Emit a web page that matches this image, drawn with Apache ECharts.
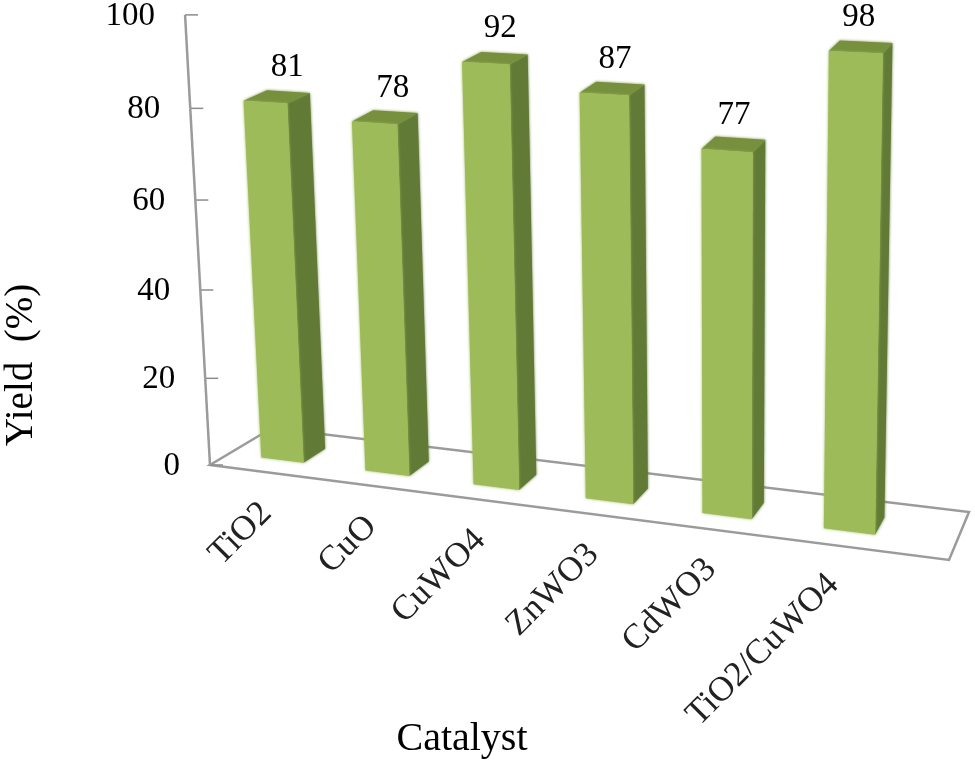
<!DOCTYPE html>
<html>
<head>
<meta charset="utf-8">
<style>
  html, body { margin: 0; padding: 0; background: #fff; }
  #chart { width: 975px; height: 763px; }
</style>
<script src="https://cdn.jsdelivr.net/npm/echarts@6/dist/echarts.min.js"></script>
</head>
<body>
<div id="chart"></div>
<script>
var categories = ['TiO2', 'CuO', 'CuWO4', 'ZnWO3', 'CdWO3', 'TiO2/CuWO4'];
var yields = [81, 78, 92, 87, 77, 98];
var yTicks = [0, 20, 40, 60, 80, 100];

var FONT = '"Liberation Serif", "Times New Roman", serif';
var GRAY = '#9b9b9b';

// floor corners on screen: front-left, front-right, back-right, back-left
var F = [[210, 465], [949, 560], [969, 512], [272, 428]];
// vanishing point of the vertical edges, and how fast height eats into it
var VP = [727, 9800];
var H_RATE = -0.00046;
// the categories fill only part of the floor's width
var U_START = 0.003, U_SPAN = 0.9444;
var BAR_FRAC = 0.41, Z_FRONT = 0.30, Z_BACK = 0.67;
// original's top faces look a bit deeper than the camera would give
var TOP_RAISE = 1;

// floor homography, square to quad
var sx = F[0][0] - F[1][0] + F[2][0] - F[3][0];
var sy = F[0][1] - F[1][1] + F[2][1] - F[3][1];
var dx1 = F[1][0] - F[2][0], dx2 = F[3][0] - F[2][0];
var dy1 = F[1][1] - F[2][1], dy2 = F[3][1] - F[2][1];
var det = dx1 * dy2 - dx2 * dy1;
var G = (sx * dy2 - dx2 * sy) / det;
var H = (dx1 * sy - sx * dy1) / det;

// u along the front edge, z into the depth, h is the axis value
function project(u, z, h) {
  var k = H_RATE * h;
  var X = (F[1][0] - F[0][0] + G * F[1][0]) * u + (F[3][0] - F[0][0] + H * F[3][0]) * z + F[0][0] + k * VP[0];
  var Y = (F[1][1] - F[0][1] + G * F[1][1]) * u + (F[3][1] - F[0][1] + H * F[3][1]) * z + F[0][1] + k * VP[1];
  var W = 1 + G * u + H * z + k;
  return [X / W, Y / W];
}

function toU(px, cs) { return U_START + (px - cs.x) / cs.width * U_SPAN; }
function toH(py, cs) { return (cs.y + cs.height - py) / cs.height * 100; }

function poly(points, fill) {
  return { type: 'polygon', shape: { points: points }, style: { fill: fill, shadowBlur: 3, shadowColor: fill } };
}

function renderFloor() {
  return {
    type: 'polygon',
    shape: { points: [project(0, 0, 0), project(1, 0, 0), project(1, 1, 0), project(0, 1, 0)] },
    style: { fill: 'none', stroke: GRAY, lineWidth: 2.5, lineJoin: 'miter' }
  };
}

function renderAxis(params, api) {
  var cs = params.coordSys;
  var v = api.value(1);
  var h = toH(api.coord([0, v])[1], cs);
  var p = project(0, 0, h);
  var kids = [
    { type: 'line', shape: { x1: p[0], y1: p[1], x2: p[0] + 13, y2: p[1] }, style: { stroke: '#8c8c8c', lineWidth: 1.5 } },
    { type: 'text', x: p[0] - 30, y: p[1] + 1, style: { text: String(v), font: '33px ' + FONT, fill: '#000', align: 'right', verticalAlign: 'middle' } }
  ];
  if (v > 0) {
    var low = project(0, 0, h - 20);
    kids.push({ type: 'line', shape: { x1: low[0], y1: low[1], x2: p[0], y2: p[1] }, style: { stroke: GRAY, lineWidth: 2.5 } });
  }
  return { type: 'group', children: kids };
}

function renderBar(params, api) {
  var cs = params.coordSys;
  var i = api.value(0), val = api.value(1);
  var c = api.coord([i, val]);
  var uc = toU(c[0], cs);
  var half = api.size([1, 0])[0] / cs.width * U_SPAN * BAR_FRAC / 2;
  var h = toH(c[1], cs);
  var u0 = uc - half, u1 = uc + half;
  var hb = h + TOP_RAISE;

  var front = [project(u0, Z_FRONT, 0), project(u1, Z_FRONT, 0), project(u1, Z_FRONT, h), project(u0, Z_FRONT, h)];
  var side = [project(u1, Z_FRONT, 0), project(u1, Z_BACK, 0), project(u1, Z_BACK, hb), project(u1, Z_FRONT, h)];
  var top = [project(u0, Z_FRONT, h), project(u1, Z_FRONT, h), project(u1, Z_BACK, hb), project(u0, Z_BACK, hb)];

  var head = project(uc, Z_FRONT, h);
  var foot = project(uc, Z_FRONT, 0);

  return {
    type: 'group',
    children: [
      poly(side, '#617a36'),
      poly(top, '#76903d'),
      poly(front, '#9dbb58'),
      // value sits further right on the left bars, the original drifts that way
      { type: 'text', x: head[0] + 24 * (1 - uc), y: head[1] - 35,
        style: { text: String(val), font: '33px ' + FONT, fill: '#000', align: 'center', verticalAlign: 'middle' } },
      { type: 'text', x: foot[0] - 16, y: foot[1] + 48, rotation: Math.PI / 4,
        style: { text: categories[i], font: '35px ' + FONT, fill: '#222', align: 'right', verticalAlign: 'middle' } }
    ]
  };
}

var chart = echarts.init(document.getElementById('chart'));
chart.setOption({
  animation: false,
  backgroundColor: '#fff',
  // the grid is only the scale, everything is projected from it
  grid: { left: 59, top: 65, width: 806, height: 600, outerBoundsMode: 'none' },
  xAxis: {
    type: 'category',
    data: categories,
    name: 'Catalyst',
    nameLocation: 'middle',
    nameGap: 54,
    nameTextStyle: { fontFamily: FONT, fontSize: 40, color: '#000' },
    axisLine: { show: false },
    axisTick: { show: false },
    axisLabel: { show: false }
  },
  yAxis: {
    type: 'value',
    min: 0,
    max: 100,
    interval: 20,
    name: 'Yield  (%)',
    nameLocation: 'middle',
    nameGap: 18,
    nameTextStyle: { fontFamily: FONT, fontSize: 39, color: '#000' },
    axisLine: { show: false },
    axisTick: { show: false },
    axisLabel: { show: false },
    splitLine: { show: false }
  },
  series: [
    { type: 'custom', clip: false, silent: true, z: 1, data: [[0, 0]], renderItem: renderFloor },
    { type: 'custom', clip: false, silent: true, z: 2, data: yTicks.map(function (v) { return [0, v]; }), renderItem: renderAxis },
    { type: 'custom', clip: false, silent: true, z: 3, data: yields.map(function (v, i) { return [i, v]; }), renderItem: renderBar }
  ]
});
</script>
</body>
</html>
